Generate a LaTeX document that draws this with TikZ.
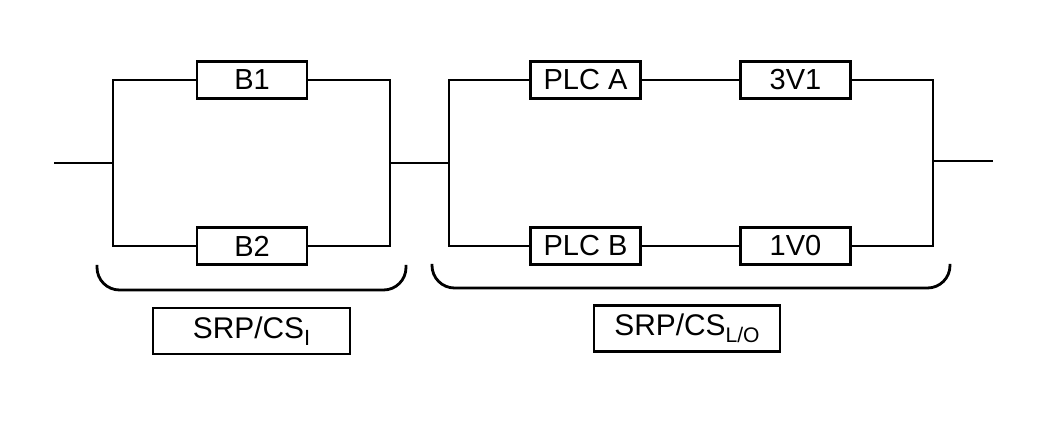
\documentclass[tikz,border=0pt]{standalone}
\usepackage{fontspec}
\setmainfont{Liberation Sans}

\begin{document}
\begin{tikzpicture}[
  line width=1.6pt,
  blk/.style={draw,minimum width=2.2cm,minimum height=0.74cm,inner sep=0pt,
    font=\fontsize{16.5}{19}\selectfont},
  lbl/.style={draw,minimum height=0.92cm,inner sep=0pt,
    font=\fontsize{17}{19}\selectfont},
  brc/.style={rounded corners=0.45cm},
]
  \useasboundingbox (0,0) rectangle (21.1,8.6);

  % first channel, B1 / B2
  \node[blk] (b1) at (5.04,7.0) {B1};
  \node[blk] (b2) at (5.04,3.68) {B2};
  \coordinate (in) at (1.08,5.34);
  \coordinate (j1) at (2.26,5.34);
  \coordinate (j2) at (7.8,5.34);
  \draw (in) -- (j1);
  \draw (b1.west) -| (j1) |- (b2.west);
  \draw (b1.east) -| (j2) |- (b2.east);

  % second channel, PLC and valves
  \node[blk] (plca) at (11.71,7.0) {PLC A};
  \node[blk] (v31) at (15.91,7.0) {3V1};
  \node[blk] (plcb) at (11.71,3.68) {PLC B};
  \node[blk] (v10) at (15.91,3.68) {1V0};
  \coordinate (j3) at (8.98,5.34);
  \coordinate (j4) at (18.66,5.38);
  \coordinate (out) at (19.86,5.38);
  \draw (j2) -- (j3);
  \draw (plca.west) -| (j3) |- (plcb.west);
  \draw (plca) -- (v31);
  \draw (plcb) -- (v10);
  \draw (v31.east) -| (j4) |- (v10.east);
  \draw (j4) -- (out);

  % brackets
  \draw[brc] (1.94,3.3) -- (1.94,2.8) -- (8.12,2.8) -- (8.12,3.3);
  \draw[brc] (8.64,3.32) -- (8.64,2.84) -- (19.0,2.84) -- (19.0,3.32);

  \node[lbl,minimum width=3.94cm] (srpi) at (5.03,1.98)
    {SRP/CS\raisebox{-0.45ex}{\fontsize{12.5}{13}\selectfont I}};
  \node[lbl,minimum width=3.72cm] (srpio) at (13.74,2.03)
    {SRP/CS\raisebox{-0.45ex}{\fontsize{12}{13}\selectfont L/O}};
\end{tikzpicture}
\end{document}
